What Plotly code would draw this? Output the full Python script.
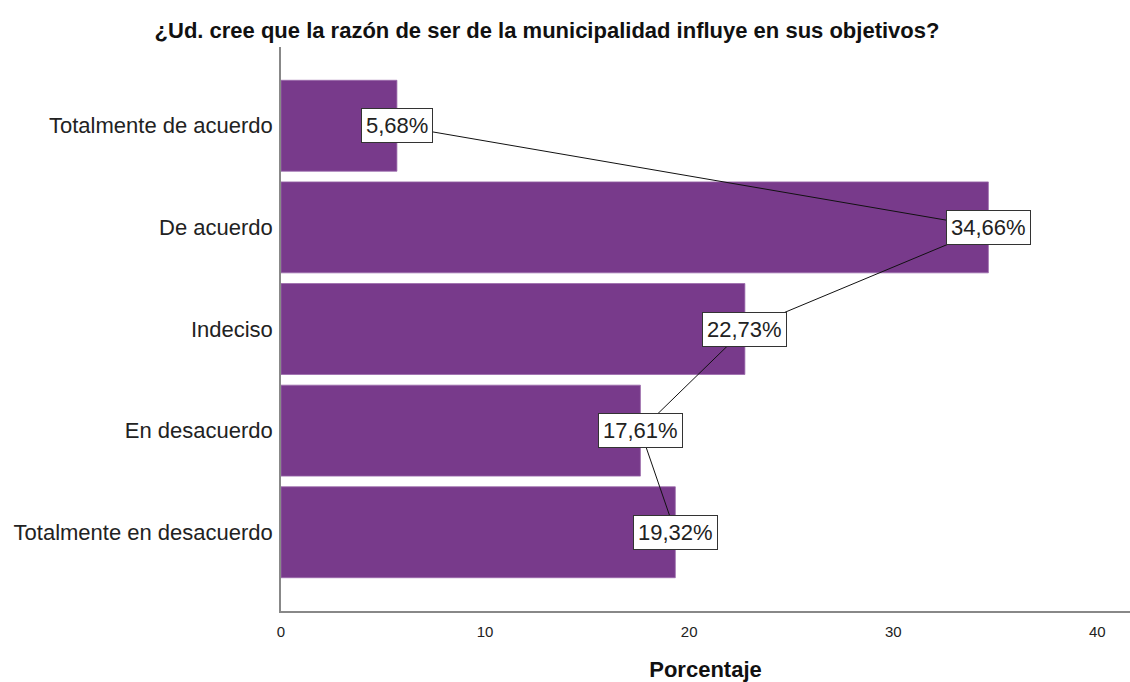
import plotly.graph_objects as go

categorias = [
    "Totalmente de acuerdo",
    "De acuerdo",
    "Indeciso",
    "En desacuerdo",
    "Totalmente en desacuerdo",
]
porcentajes = [5.68, 34.66, 22.73, 17.61, 19.32]
etiquetas = ["5,68%", "34,66%", "22,73%", "17,61%", "19,32%"]
ticks_x = [0, 10, 20, 30, 40]

FONT = "Liberation Sans, Arial, sans-serif"
MORADO = "#783a8b"

fig = go.Figure()

fig.add_trace(go.Bar(
    x=porcentajes,
    y=categorias,
    orientation="h",
    width=0.895,
    marker=dict(color=MORADO, line=dict(color="#9a6aab", width=0.8)),
    hoverinfo="skip",
))

# Línea que une los extremos de las barras
fig.add_trace(go.Scatter(
    x=porcentajes,
    y=categorias,
    mode="lines",
    line=dict(color="#111111", width=1),
    hoverinfo="skip",
))

for v, c, t in zip(porcentajes, categorias, etiquetas):
    fig.add_annotation(
        x=v, y=c, xref="x", yref="y",
        text=t, showarrow=False,
        font=dict(family=FONT, size=22, color="#222222"),
        bgcolor="white", bordercolor="#333333", borderwidth=1, borderpad=4,
    )

fig.update_layout(
    width=1130, height=682,
    margin=dict(l=281, r=0, t=47, b=71),
    paper_bgcolor="white", plot_bgcolor="white",
    showlegend=False,
    title=dict(
        text="<b>¿Ud. cree que la razón de ser de la municipalidad influye en sus objetivos?</b>",
        x=547 / 1130, xanchor="center", y=1 - 30 / 682, yanchor="middle",
        font=dict(family=FONT, size=22, color="#111111"),
    ),
    xaxis=dict(
        range=[0, 41.6], tickvals=ticks_x, showgrid=False, zeroline=False,
        showline=True, linecolor="#888888", linewidth=1.5,
        ticks="outside", ticklen=6, tickcolor="rgba(0,0,0,0)",
        tickfont=dict(family=FONT, size=15, color="#222222"),
        title=dict(text="<b>Porcentaje</b>", standoff=23,
                   font=dict(family=FONT, size=22, color="#111111")),
    ),
    yaxis=dict(
        categoryorder="array", categoryarray=categorias,
        range=[4.775, -0.775], showgrid=False, zeroline=False,
        showline=True, linecolor="#888888", linewidth=1.5,
        ticks="outside", ticklen=2, tickcolor="rgba(0,0,0,0)",
        tickfont=dict(family=FONT, size=22, color="#222222"),
    ),
)

fig.write_html("out.html")
